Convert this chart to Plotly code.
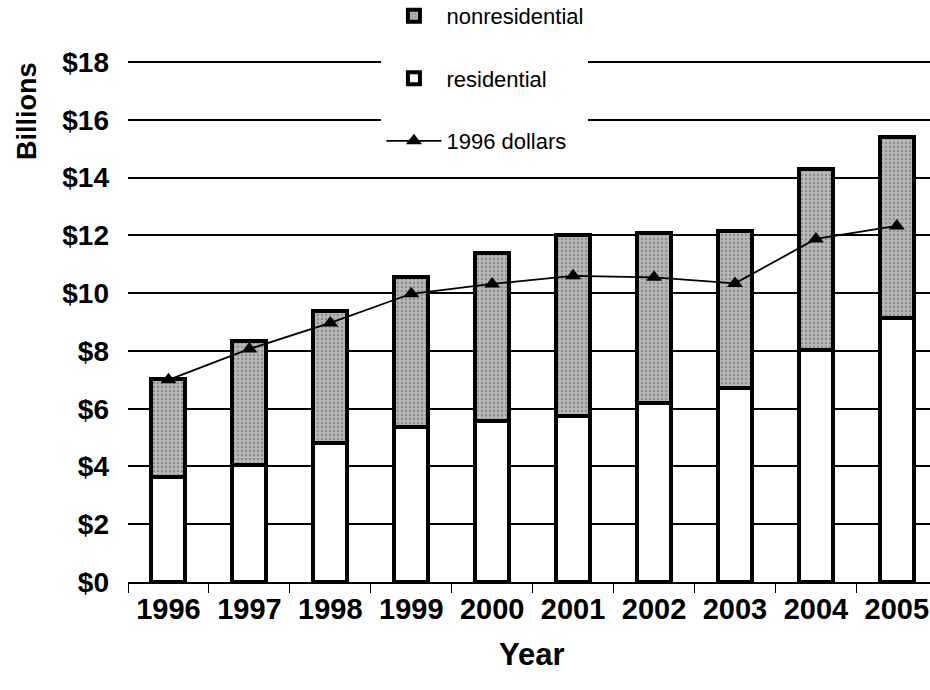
import plotly.graph_objects as go

years = ["1996", "1997", "1998", "1999", "2000", "2001", "2002", "2003", "2004", "2005"]
residential = [3.63, 4.05, 4.81, 5.37, 5.58, 5.75, 6.20, 6.73, 8.04, 9.14]
nonresidential = [3.39, 4.30, 4.58, 5.19, 5.82, 6.27, 5.89, 5.44, 6.26, 6.27]
dollars_1996 = [7.00, 8.07, 8.97, 9.98, 10.32, 10.60, 10.55, 10.34, 11.88, 12.33]
y_ticks = [0, 2, 4, 6, 8, 10, 12, 14, 16, 18]
y_tick_text = ["$" + str(v) for v in y_ticks]

FONT = "Arial, 'Liberation Sans', sans-serif"

fig = go.Figure()
fig.add_trace(go.Bar(
    x=years, y=residential, name="residential",
    marker=dict(color="white", line=dict(color="black", width=4)),
    legendgroup="b", legendrank=2,
))
fig.add_trace(go.Bar(
    x=years, y=nonresidential, name="nonresidential",
    marker=dict(color="#a0a0a0", line=dict(color="black", width=4),
                pattern=dict(shape=".", fgcolor="#666666", bgcolor="#b8b8b8", size=4, solidity=0.3)),
    legendgroup="a", legendrank=1,
))
fig.add_trace(go.Scatter(
    x=years, y=dollars_1996, name="1996 dollars", mode="lines+markers",
    line=dict(color="black", width=1.8),
    marker=dict(symbol="triangle-up", size=14, color="black"),
    legendgroup="c", legendrank=3,
))

fig.update_layout(
    width=930, height=690,
    margin=dict(l=128, r=0, t=61, b=108, autoexpand=False),
    paper_bgcolor="white", plot_bgcolor="white",
    barmode="stack", bargap=0.58,
    font=dict(family=FONT, color="black"),
    showlegend=True,
    legend=dict(
        x=0.316, xanchor="left", y=1.127, yanchor="top",
        bgcolor="white", borderwidth=0,
        font=dict(size=22, family=FONT, color="black"),
        traceorder="grouped", tracegroupgap=31, itemwidth=55,
    ),
    xaxis=dict(
        range=[-0.5, 9.41], automargin=False,
        showline=True, linecolor="black", linewidth=1.5,
        ticks="outside", tickson="boundaries", ticklen=9, tickcolor="black", tickwidth=1,
        showgrid=False,
        tickfont=dict(size=29, family=FONT, color="black", weight="bold"),
    ),
    yaxis=dict(
        range=[0, 18.04], tickvals=y_ticks, ticktext=y_tick_text, automargin=False,
        showgrid=True, gridcolor="black", gridwidth=1.5,
        zeroline=False, showline=False, ticks="",
        ticklabelstandoff=18,
        tickfont=dict(size=28, family=FONT, color="black", weight="bold"),
    ),
    annotations=[
        dict(text="Year", xref="paper", yref="paper", x=0.504, y=-0.14,
             xanchor="center", yanchor="middle", showarrow=False,
             font=dict(size=31, family=FONT, color="black", weight="bold")),
        dict(text="Billions", xref="paper", yref="paper", x=-0.126, y=0.904,
             xanchor="center", yanchor="middle", showarrow=False, textangle=-90,
             font=dict(size=27, family=FONT, color="black", weight="bold")),
    ],
)

fig.write_html("out.html", config={"displayModeBar": False},
               post_script="document.body.style.margin='0px';")
